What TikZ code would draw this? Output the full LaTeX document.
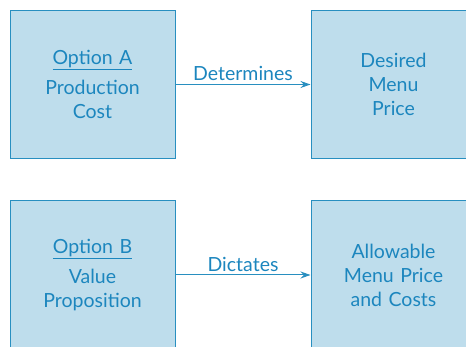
\documentclass[tikz,border=0pt]{standalone}
\usepackage{fontspec}
\setmainfont{Lato}
\usepackage{tikz}
\usetikzlibrary{arrows.meta,positioning}
\definecolor{boxfill}{RGB}{190,221,236}
\definecolor{boxline}{RGB}{40,143,192}
\definecolor{inkblue}{RGB}{28,134,190}
\tikzset{%
	optbox/.style = {draw=boxline, fill=boxfill, line width=1pt, rectangle, minimum width=165pt, minimum height=148pt, text width=150pt, align=center, text=inkblue, font=\fontsize{19.5}{24}\selectfont, inner sep=0pt},
	arrow/.style  = {draw=boxline, line width=1pt, -{Stealth[length=10pt,width=7pt]}},
	arrlabel/.style = {text=inkblue, font=\fontsize{19.5}{22}\selectfont, above, inner sep=3pt},
}

\begin{document}
\begin{tikzpicture}[x=1pt,y=-1pt]
	\useasboundingbox (0,0) rectangle (466,347);
	\clip (0,0) rectangle (466,347);
	
	\node[optbox] (optA) at (92.5,84.5) {\underline{Option A}\\[6pt] Production\\ Cost};
	\node[optbox, right=135pt of optA] (desired) {Desired\\ Menu\\ Price};
	
	\node[optbox] (optB) at (92.5,275) {\underline{Option B}\\[6pt] Value\\ Proposition};
	\node[optbox, right=135pt of optB] (allow) {Allowable\\ Menu Price\\ and Costs};
	
	\draw[arrow] (optA) -- node[arrlabel] {Determines} (desired);
	\draw[arrow] (optB) -- node[arrlabel] {Dictates} (allow);
\end{tikzpicture}
\end{document}
